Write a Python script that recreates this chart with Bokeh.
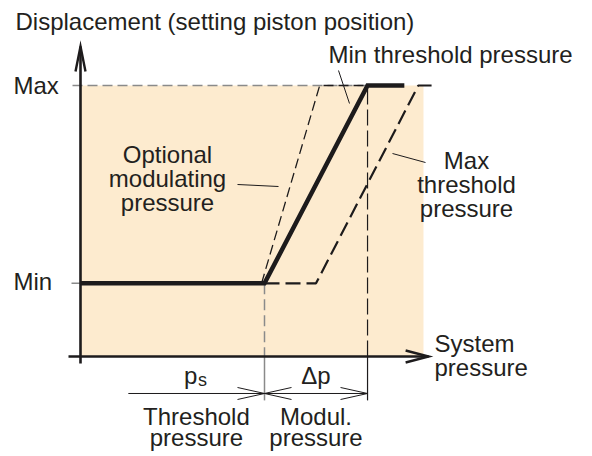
from bokeh.plotting import figure
from bokeh.models import Range1d
from bokeh.core.properties import value
from bokeh.embed import file_html
from bokeh.resources import INLINE

# ---------------- data (schematic units) ----------------
# pressure axis: 0 = origin; displacement axis: 0 = origin
p_s = 50            # threshold pressure
p_mod_end = 78      # threshold + modulating pressure (p_s + delta p)
disp_min = 27       # "Min" displacement
disp_max = 100      # "Max" displacement
y_tick_vals = [100, 27]
y_tick_labels = ["Max", "Min"]

# thick line: min threshold pressure
min_curve_x = [0, 50, 78, 88]
min_curve_y = [27, 27, 100, 100]
# thin dashed: optional modulating pressure
opt_curve_x = [49.2, 65, 78]
opt_curve_y = [27, 100, 100]
# long dashed: max threshold pressure
max_curve_x = [50, 64, 91.8, 95.4]
max_curve_y = [27, 27, 100, 100]

shade_right = 93.2      # end of shaded operating area
x_axis_end = 94.6
y_axis_end = 114.4
dim_left = 13           # left end of p_s dimension line
dim_y = -13.65          # level of dimension line
ext_bottom = -16.2      # extension lines bottom

# ---------------- scales ----------------
W, H = 592, 456
SX, SY = 3.68, 2.71     # pixels per unit
X0, Y0 = 80, 356        # pixel position of origin
TEXT_SHIFT = 9          # px: compensate for svg text baseline placement


def ux(px):
    return px / SX


def uy(px):
    return px / SY


def page_y(py):
    return (Y0 - py) / SY


def page_x(px):
    return (px - X0) / SX


p = figure(width=W, height=H, output_backend="svg", toolbar_location=None,
           x_range=Range1d(-X0 / SX, (W - X0) / SX),
           y_range=Range1d((Y0 - H) / SY, Y0 / SY),
           x_axis_type=None, y_axis_type=None, min_border=0,
           outline_line_color=None, background_fill_color="white",
           border_fill_color="white")
p.grid.visible = False

INK = "#1d1b1c"
TXT = "#231f20"
GRAY = "#8a8a8a"
FONT = value("Liberation Sans")

# shaded area
p.quad(left=[0], right=[shade_right], bottom=[0], top=[disp_max],
       fill_color="#fdebcf", line_color=None)

# Max reference (gray dashed)
p.line([-ux(8), p_mod_end], [disp_max, disp_max], line_color=GRAY,
       line_width=1.5, line_dash="10 5")
# Min tick
p.line([-ux(9), 0], [disp_min, disp_min], line_color=GRAY, line_width=1.5)

# vertical extension lines
p.line([p_s, p_s], [disp_min, 0], line_color=GRAY, line_width=1.5,
       line_dash="11 5")
p.line([p_s, p_s], [0, ext_bottom], line_color=GRAY, line_width=1.5)
p.line([p_mod_end, p_mod_end], [disp_max - uy(3), 0], line_color=INK,
       line_width=1.2, line_dash="16 5")
p.line([p_mod_end, p_mod_end], [0, ext_bottom], line_color=INK, line_width=1.2)

# curves
p.line(opt_curve_x, opt_curve_y, line_color=INK, line_width=1.3,
       line_dash="10 5")
p.line(max_curve_x, max_curve_y, line_color=INK, line_width=2.2,
       line_dash="15 6")
p.line(min_curve_x, min_curve_y, line_color=INK, line_width=4.5,
       line_join="miter")

# axes with open arrow heads
p.line([0, 0], [-uy(7), y_axis_end], line_color=INK, line_width=2.6)
p.line([-ux(12), x_axis_end], [0, 0], line_color=INK, line_width=2.6)
p.line([-ux(5), 0, ux(5)], [y_axis_end - uy(25), y_axis_end,
                            y_axis_end - uy(25)],
       line_color=INK, line_width=2.4, line_join="miter")
p.line([x_axis_end - ux(23), x_axis_end, x_axis_end - ux(23)],
       [uy(6), 0, -uy(6)], line_color=INK, line_width=2.4,
       line_join="miter")

# dimension line with arrow heads
p.line([dim_left, p_mod_end], [dim_y, dim_y], line_color=INK, line_width=1)
aL, aH = ux(27), uy(6)
for tip, d in [(p_s, -1), (p_s, 1), (p_mod_end, -1)]:
    p.line([tip + d * aL, tip, tip + d * aL],
           [dim_y + aH, dim_y, dim_y - aH], line_color=INK, line_width=1)

# leader lines
p.line([page_x(338), page_x(349)], [page_y(70), page_y(103)],
       line_color=INK, line_width=1)
p.line([page_x(237), page_x(278)], [page_y(184), page_y(186)],
       line_color=INK, line_width=1)
p.line([page_x(392), page_x(425)], [page_y(153), page_y(162)],
       line_color=INK, line_width=1)

# ---------------- texts ----------------
def txt(x, y, s, size="24px", align="left"):
    p.text(x=[x], y=[y + uy(TEXT_SHIFT)], text=[s], text_font=FONT,
           text_font_size=size, text_color=TXT, text_align=align,
           text_baseline="alphabetic")


txt(page_x(15), page_y(30), "Displacement (setting piston position)")
for v, lab in zip(y_tick_vals, y_tick_labels):
    txt(page_x(13), v - uy(9 if v == disp_max else 7), lab)

txt(page_x(328), page_y(63), "Min threshold pressure")
for i, s in enumerate(["Optional", "modulating", "pressure"]):
    txt(page_x(167), page_y(163 + 24 * i), s, align="center")
for i, s in enumerate(["Max", "threshold", "pressure"]):
    txt(page_x(466), page_y(169 + 24 * i), s, align="center")
for i, s in enumerate(["System", "pressure"]):
    txt(page_x(434), page_y(352 + 24 * i), s)

ps_c = (dim_left + p_s) / 2
dp_c = (p_s + p_mod_end) / 2
txt(ps_c + ux(1), page_y(384), "p", align="right")
txt(ps_c + ux(1.5), page_y(388), "s", size="18px")
txt(dp_c, page_y(384), "Δp", align="center")
for i, s in enumerate(["Threshold", "pressure"]):
    txt(ps_c, page_y(425 + 21 * i), s, align="center")
for i, s in enumerate(["Modul.", "pressure"]):
    txt(dp_c, page_y(425 + 21 * i), s, align="center")

open("out.html", "w").write(file_html(p, INLINE))
